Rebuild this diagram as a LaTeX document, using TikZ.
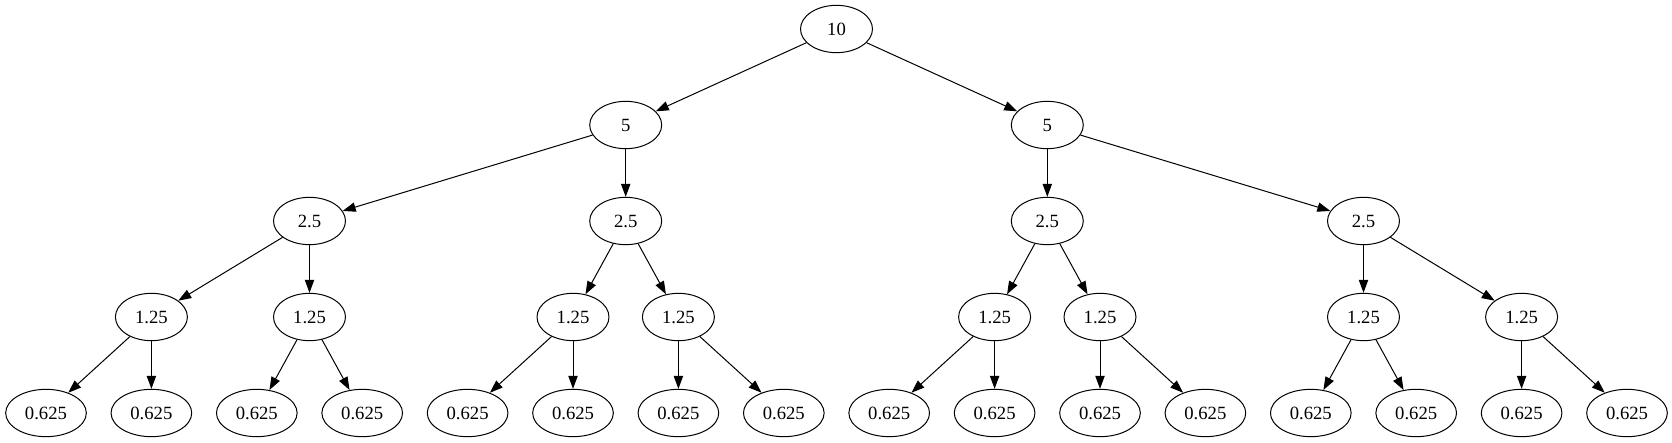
\documentclass[tikz,border=0pt]{standalone}
\usepackage{fontspec}
\setmainfont{Liberation Serif}
\usetikzlibrary{shapes.geometric,arrows.meta}
\begin{document}
\begin{tikzpicture}[x=0.75pt,y=-0.75pt,>={Triangle[length=9.75pt,width=7pt]}, font=\fontsize{14}{16}\selectfont, line join=round, line width=0.75pt,
	val/.style={draw,ellipse,minimum width=54pt,minimum height=35.5pt,inner sep=0pt},
	leaf/.style={val,minimum width=60.5pt}]
	\def\xo{46} \def\dx{105.4} % Khoảng cách lá
	\def\ya{29} \def\yb{125} \def\yc{221} \def\yd{317} \def\ye{413}
	\useasboundingbox (0,0) rectangle (1672,443);
	\node[val] (r) at ({\xo+7.5*\dx},\ya) {10};
	\foreach \k/\p in {0/5.5,1/9.5} \node[val] (b\k) at ({\xo+\p*\dx},\yb) {5};
	\foreach \k/\p in {0/2.5,1/5.5,2/9.5,3/12.5} \node[val] (c\k) at ({\xo+\p*\dx},\yc) {2.5};
	\foreach \k/\p in {0/1,1/2.5,2/5,3/6,4/9,5/10,6/12.5,7/14} \node[val] (d\k) at ({\xo+\p*\dx},\yd) {1.25};
	\foreach \i in {0,...,15} \node[leaf] (f\i) at ({\xo+\i*\dx},\ye) {0.625};
	\draw[->] (r)--(b0); \draw[->] (r)--(b1);
	\foreach \k [evaluate=\k as \l using int(2*\k), evaluate=\k as \m using int(2*\k+1)] in {0,1}
		{\draw[->] (b\k)--(c\l); \draw[->] (b\k)--(c\m);}
	\foreach \k [evaluate=\k as \l using int(2*\k), evaluate=\k as \m using int(2*\k+1)] in {0,...,3}
		{\draw[->] (c\k)--(d\l); \draw[->] (c\k)--(d\m);}
	\foreach \k [evaluate=\k as \l using int(2*\k), evaluate=\k as \m using int(2*\k+1)] in {0,...,7}
		{\draw[->] (d\k)--(f\l); \draw[->] (d\k)--(f\m);}
\end{tikzpicture}
\end{document}
